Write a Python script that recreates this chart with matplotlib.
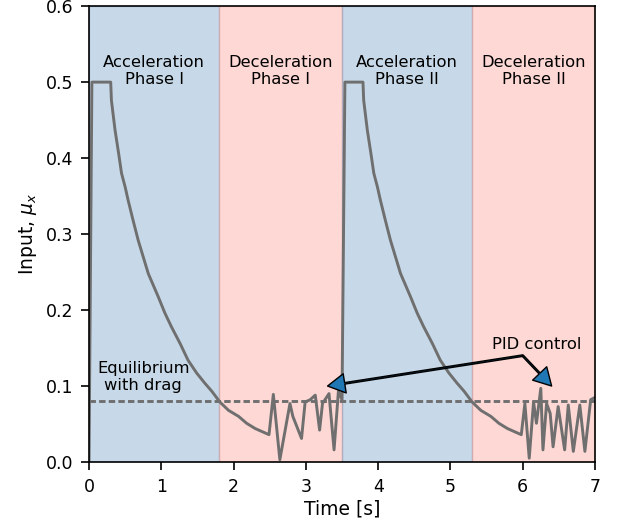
import numpy as np
import matplotlib
matplotlib.use("Agg")
import matplotlib.pyplot as plt

# Input profile, split into the four phases of the run
accel1_t = [0.0, 0.04, 0.30, 0.31, 0.36, 0.41, 0.45, 0.50, 0.54, 0.61, 0.68, 0.75, 0.82, 0.96, 1.05,
            1.14, 1.26, 1.37, 1.49, 1.60, 1.70, 1.81, 1.93, 2.07, 2.18, 2.30, 2.49]
accel1_u = [0.0, 0.50, 0.50, 0.476, 0.437, 0.406, 0.380, 0.362, 0.345, 0.318, 0.292, 0.270, 0.248, 0.217, 0.196,
            0.178, 0.156, 0.134, 0.117, 0.104, 0.093, 0.079, 0.068, 0.060, 0.051, 0.044, 0.036]

pid1_t = [2.55, 2.64, 2.78, 2.82, 2.94, 2.99, 3.06, 3.13, 3.19, 3.23, 3.32, 3.39, 3.45, 3.50]
pid1_u = [0.089, 0.003, 0.077, 0.060, 0.031, 0.079, 0.082, 0.088, 0.042, 0.077, 0.090, 0.016, 0.093, 0.082]

accel2_t = [3.54, 3.79, 3.80, 3.85, 3.90, 3.94, 3.99, 4.03, 4.10, 4.17, 4.24, 4.31, 4.45, 4.54,
            4.63, 4.75, 4.86, 4.98, 5.09, 5.19, 5.30, 5.42, 5.56, 5.67, 5.79, 5.98]
accel2_u = [0.50, 0.50, 0.476, 0.437, 0.406, 0.380, 0.362, 0.345, 0.318, 0.292, 0.270, 0.248, 0.217, 0.196,
            0.178, 0.156, 0.134, 0.117, 0.104, 0.093, 0.079, 0.068, 0.060, 0.051, 0.044, 0.036]

pid2_t = [6.03, 6.09, 6.15, 6.19, 6.25, 6.28, 6.33, 6.38, 6.42, 6.49, 6.58, 6.63, 6.70, 6.79, 6.86, 6.94, 7.00]
pid2_u = [0.077, 0.005, 0.079, 0.051, 0.097, 0.016, 0.077, 0.064, 0.020, 0.073, 0.016, 0.075, 0.014, 0.075, 0.014, 0.082, 0.085]

phase_edges = [0.0, 1.8, 3.5, 5.3, 7.0]
phase_labels = ["Acceleration\nPhase I", "Deceleration\nPhase I",
                "Acceleration\nPhase II", "Deceleration\nPhase II"]
u_equilibrium = 0.08

t = np.concatenate([accel1_t, pid1_t, accel2_t, pid2_t])
u = np.concatenate([accel1_u, pid1_u, accel2_u, pid2_u])

fig = plt.figure(figsize=(6.22, 5.24), dpi=100)
ax = fig.add_axes([0.1431, 0.1183, 0.8135, 0.870])

line_color = "#6f6f6f"
span_colors = ["steelblue", "salmon"]

for i, label in enumerate(phase_labels):
    lo, hi = phase_edges[i], phase_edges[i + 1]
    ax.axvspan(lo, hi, color=span_colors[i % 2], alpha=0.3, zorder=0)
    ax.text((lo + hi) / 2, 0.515, label, ha="center", va="center", fontsize=11.8)

ax.plot(t, u, color=line_color, lw=2.1, zorder=2)
ax.axhline(u_equilibrium, color=line_color, ls=(0, (2.2, 1.1)), lw=2.1, zorder=2)

ax.text(0.75, 0.112, "Equilibrium\nwith drag", ha="center", va="center", fontsize=11.8)

# two arrows from a shared origin pointing at the PID sections
arrow_kw = dict(facecolor="tab:blue", edgecolor="black", width=1.1, headwidth=14, headlength=12.5)
for target in [(3.3, 0.1), (6.4, 0.1)]:
    ax.annotate("", xy=target, xytext=(6.0, 0.14), arrowprops=arrow_kw, zorder=5)
ax.text(6.2, 0.155, "PID control", ha="center", va="center", fontsize=11.8)

ax.set_xlim(0, 7)
ax.set_ylim(0, 0.6)
ax.set_xticks(range(0, 8))
ax.set_yticks(np.arange(0, 0.61, 0.1))
ax.tick_params(labelsize=12.5, length=5.7, width=1.2, pad=5.5)
for spine in ax.spines.values():
    spine.set_linewidth(1.2)
ax.set_xlabel("Time [s]", fontsize=13.5, labelpad=3)
ax.set_ylabel(r"Input, $\mu_x$", fontsize=13.5, labelpad=5)

fig.savefig("out.png", dpi=100)
